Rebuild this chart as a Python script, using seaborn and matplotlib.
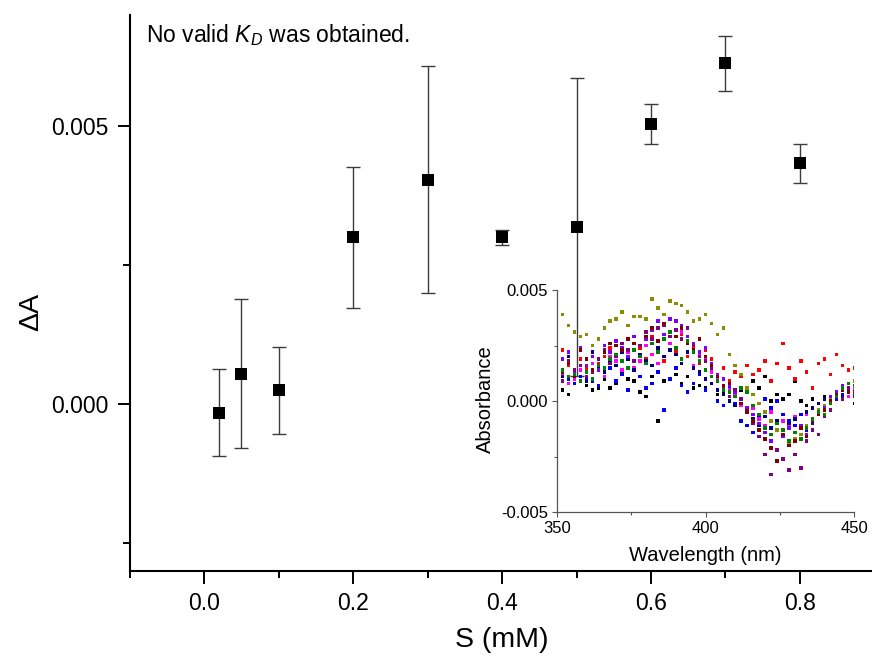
import numpy as np
import pandas as pd
import matplotlib
matplotlib.use("Agg")
import matplotlib.pyplot as plt
from matplotlib.ticker import FixedLocator, FormatStrFormatter
import seaborn as sns

# ---------------- main data ----------------
S_mM = [0.02, 0.05, 0.1, 0.2, 0.3, 0.4, 0.5, 0.6, 0.7, 0.8]
dA = [-0.00015, 0.00055, 0.00025, 0.0030, 0.00404, 0.0030, 0.00319, 0.00504, 0.00613, 0.00433]
dA_err = [0.00078, 0.00134, 0.00078, 0.00127, 0.00204, 0.00014, 0.00268, 0.00036, 0.0005, 0.00035]

# ---------------- inset data (absorbance x 1e-3) ----------------
wavelength = list(range(350, 451, 2))
olive = [3.2, 3.9, 3.4, 3.1, 2.9, 3.0, 2.5, 2.8, 3.3, 3.6,
         3.7, 4.0, 3.4, 3.8, 3.8, 3.7, 4.6, 4.2, 3.9, 4.5,
         4.4, 4.3, 4.0, 3.6, 3.7, 3.9, 3.5, 3.0, 3.3, 2.1,
         1.6, 1.2, 0.6, 0.3, -0.1, -0.5, -0.9, -1.3, -1.6, -1.9,
         -1.7, -1.5, -1.1, -0.8, -0.4, -0.2, 0.1, 0.4, 0.6, 0.8,
         0.9]
red = [1.4, 2.3, 1.6, 1.2, 1.9, 1.5, 1.3, 1.7, 2.0, 2.4,
       1.8, 2.6, 2.2, 1.5, 2.4, 1.9, 2.9, 2.3, 1.8, 2.6,
       2.2, 3.0, 2.0, 2.4, 1.7, 2.3, 1.9, 1.2, 1.5, 0.9,
       1.3, 1.1, 1.6, 1.2, 1.4, 1.8, 0.9, 1.7, 2.6, 1.5,
       1.0, 1.8, 1.3, 0.6, 1.7, 1.9, 1.2, 2.1, 1.6, 1.4,
       1.5]
black = [0.8, 0.5, 0.3, 1.1, 0.9, 0.7, 0.5, 0.6, 1.0, 0.6,
         0.8, 1.3, 1.0, 0.9, 0.4, 0.2, 1.1, -0.9, 0.9, 1.0,
         1.2, 0.8, 1.1, 0.6, 0.7, 0.6, 0.8, 0.3, 0.4, 0.6,
         0.2, 0.5, 0.4, 0.9, 0.6, 1.1, 0.0, 0.3, 0.1, 0.3,
         0.9, 0.0, -0.2, 0.1, -0.4, 0.2, -0.1, 0.3, 0.5, 0.4,
         -0.1]
blue = [1.3, 0.9, 1.0, 0.8, 1.1, 1.0, 0.9, 0.7, 1.3, 1.5,
        0.9, 1.2, 0.5, 1.4, 1.1, 0.6, 0.8, 1.3, -0.4, 1.0,
        1.5, 0.7, 0.4, 0.8, 1.2, 0.5, 1.3, 0.0, -0.2, 0.6,
        -0.1, -0.9, -1.1, -1.4, -0.7, 0.1, -0.3, 0.0, -0.6, -0.9,
        -1.1, -0.6, -1.3, -1.0, -0.4, -0.3, 0.0, 0.1, 0.3, 0.2,
        0.5]
green = [0.7, 1.4, 1.1, 1.2, 0.9, 1.3, 1.0, 1.6, 1.5, 1.9,
         2.1, 1.8, 1.5, 2.3, 2.0, 1.7, 2.6, 2.2, 2.8, 3.1,
         2.4, 1.9, 2.7, 2.2, 1.8, 1.4, 1.1, 0.9, 0.5, 0.4,
         0.2, 0.6, 0.4, -0.2, -0.6, -1.2, -1.5, -1.0, -1.3, -1.8,
         -1.4, -1.7, -1.2, -0.8, -0.5, -0.6, -0.1, 0.2, 0.6, 0.8,
         0.7]
magenta = [1.6, 1.2, 0.8, 1.0, 1.4, 1.3, 1.7, 1.5, 1.1, 2.0,
           1.8, 1.4, 2.2, 1.5, 1.8, 2.5, 2.1, 1.7, 2.8, 2.6,
           2.4, 3.1, 2.2, 1.6, 2.1, 1.9, 1.3, 1.0, 0.7, 0.5,
           0.3, -0.2, 0.4, -0.3, -0.8, -1.1, -0.5, -1.3, -0.9, -1.1,
           -0.7, -1.2, -0.6, -0.9, -0.4, -0.2, 0.1, 0.3, 0.5, 0.2,
           0.6]
violet = [1.5, 1.9, 2.2, 1.3, 2.4, 1.6, 2.0, 1.4, 2.5, 2.2,
          2.7, 2.4, 2.0, 2.9, 2.5, 2.8, 3.2, 3.6, 3.0, 3.7,
          3.6, 3.4, 2.9, 2.6, 2.2, 2.4, 1.7, 1.2, 1.0, 0.7,
          0.4, 0.1, -0.3, -0.6, -1.0, -1.4, -1.8, -2.2, -1.6, -1.2,
          -1.4, -1.1, -1.5, -0.9, -0.6, -0.3, 0.2, 0.4, 0.7, 0.5,
          0.3]
purple = [1.2, 0.9, 1.8, 1.4, 1.6, 1.1, 1.3, 1.9, 2.3, 1.7,
          2.0, 2.6, 2.3, 1.8, 2.5, 3.1, 2.8, 3.3, 3.4, 2.9,
          3.2, 2.8, 3.3, 2.5, 2.0, 1.8, 1.5, 0.9, 0.6, 0.2,
          0.5, 0.1, -0.4, -1.0, -1.6, -2.4, -3.3, -2.2, -2.6, -3.1,
          -2.4, -3.0, -1.8, -1.3, -1.5, -0.7, -0.4, 0.2, 0.1, 0.6,
          0.4]
wine = [1.5, 1.3, 1.7, 1.1, 2.3, 1.9, 1.4, 1.6, 2.2, 2.6,
        2.5, 2.3, 2.8, 2.6, 2.0, 2.9, 3.3, 2.7, 3.5, 3.1,
        2.9, 3.3, 2.6, 2.3, 2.8, 2.0, 1.6, 1.1, 0.7, 0.8,
        0.2, -0.1, -0.5, -0.9, -1.3, -1.7, -2.1, -2.7, -1.5, -2.0,
        -1.8, -1.2, -1.6, -0.9, -0.6, -0.4, 0.0, 0.3, 0.5, 0.4,
        0.2]
navy = [1.4, 1.1, 2.0, 1.2, 1.6, 0.9, 2.2, 1.5, 1.3, 1.8,
        1.6, 2.2, 1.9, 1.4, 2.1, 1.8, 1.6, 2.4, 2.0, 2.3,
        2.1, 1.7, 2.2, 1.5, 1.3, 1.0, 0.8, 0.5, 0.3, 0.0,
        -0.2, -0.1, -0.5, -0.8, -1.1, -0.7, -1.2, -0.9, -1.3, -1.0,
        -0.8, -1.1, -0.5, -0.3, -0.1, 0.1, 0.0, 0.3, 0.2, 0.4,
        0.3]

series = {"black": black, "red": red, "blue": blue, "magenta": magenta,
          "olive": olive, "navy": navy, "violet": violet, "purple": purple,
          "wine": wine, "green": green}
palette = {"black": "#000000", "red": "#ff0000", "blue": "#0000ff",
           "green": "#008000", "magenta": "#ff00ff", "olive": "#8c8c00",
           "navy": "#000080", "violet": "#8000ff", "purple": "#800080",
           "wine": "#800000"}

rows = []
for name, vals in series.items():
    for w, v in zip(wavelength, vals):
        rows.append({"wl": w, "abs": v / 1000.0, "series": name})
inset_df = pd.DataFrame(rows)
main_df = pd.DataFrame({"S": S_mM, "dA": dA, "err": dA_err})

# ---------------- style ----------------
sns.set_style("ticks")
plt.rcParams["font.family"] = ["Liberation Sans", "DejaVu Sans"]
plt.rcParams["mathtext.fontset"] = "custom"
plt.rcParams["mathtext.rm"] = "Liberation Sans"
plt.rcParams["mathtext.it"] = "Liberation Sans:italic"
plt.rcParams["text.color"] = "black"
plt.rcParams["axes.labelcolor"] = "black"
plt.rcParams["xtick.color"] = "black"
plt.rcParams["ytick.color"] = "black"

fig = plt.figure(figsize=(8.72, 6.59), dpi=100)
fig.patch.set_facecolor("white")

W, H = 872.0, 659.0
ax = fig.add_axes([129.7 / W, (H - 571) / H, (874.4 - 129.7) / W, (571 - 15) / H])
ax.set_facecolor("none")

ax.errorbar(main_df["S"], main_df["dA"], yerr=main_df["err"], fmt="none",
            ecolor="#3c3c3c", elinewidth=1.0, capsize=5, capthick=1.0, zorder=2)
sns.scatterplot(data=main_df, x="S", y="dA", marker="s", s=85, color="black",
                edgecolor="black", linewidth=0, ax=ax, zorder=3, legend=False)

ax.set_xlim(-0.1, 0.9)
ax.set_ylim(-0.003, 0.007)
ax.xaxis.set_major_locator(FixedLocator([0.0, 0.2, 0.4, 0.6, 0.8]))
ax.xaxis.set_minor_locator(FixedLocator([-0.1, 0.1, 0.3, 0.5, 0.7]))
ax.yaxis.set_major_locator(FixedLocator([0.0, 0.005]))
ax.yaxis.set_minor_locator(FixedLocator([-0.0025, 0.0025]))
ax.xaxis.set_major_formatter(FormatStrFormatter("%.1f"))
ax.yaxis.set_major_formatter(FormatStrFormatter("%.3f"))
ax.tick_params(which="major", direction="out", length=9, width=1.4, labelsize=16.5, pad=6,
               colors="black")
ax.tick_params(which="minor", direction="out", length=5, width=1.4, colors="black")
for sp in ["top", "right"]:
    ax.spines[sp].set_visible(False)
for sp in ["left", "bottom"]:
    ax.spines[sp].set_linewidth(1.5)
    ax.spines[sp].set_color("black")
ax.set_xlabel("S (mM)", fontsize=20.5, color="black")
ax.set_ylabel("ΔA", fontsize=20.5, color="black")
ax.xaxis.set_label_coords(0.5, -0.10)
ax.yaxis.set_label_coords(-0.115, 0.466)

fig.text(146 / W, (H - 41.7) / H, "No valid $K_D$ was obtained.", fontsize=16.5,
         ha="left", va="baseline", color="black")

# ---------------- inset ----------------
ins = fig.add_axes([556.7 / W, (H - 512.3) / H, (854.3 - 556.7) / W, (512.3 - 290) / H])
ins.set_facecolor("none")
sns.scatterplot(data=inset_df, x="wl", y="abs", hue="series", palette=palette,
                marker="s", s=6.5, linewidth=0, ax=ins, legend=False)
ins.set_xlim(350, 450)
ins.set_ylim(-0.005, 0.005)
ins.xaxis.set_major_locator(FixedLocator([350, 400, 450]))
ins.xaxis.set_minor_locator(FixedLocator([375, 425]))
ins.yaxis.set_major_locator(FixedLocator([-0.005, 0.0, 0.005]))
ins.yaxis.set_minor_locator(FixedLocator([-0.0025, 0.0025]))
ins.yaxis.set_major_formatter(FormatStrFormatter("%.3f"))
ins.tick_params(which="major", direction="out", length=3.5, width=0.8, labelsize=12, pad=2.5,
                color="#555555", labelcolor="black")
ins.tick_params(which="minor", direction="out", length=2, width=0.8, color="#555555")
for sp in ["top", "right"]:
    ins.spines[sp].set_visible(False)
for sp in ["left", "bottom"]:
    ins.spines[sp].set_linewidth(0.9)
    ins.spines[sp].set_color("#555555")
ins.set_xlabel("Wavelength (nm)", fontsize=14.5, color="black")
ins.set_ylabel("Absorbance", fontsize=14.5, color="black")
ins.xaxis.set_label_coords(0.5, -0.15)
ins.yaxis.set_label_coords(-0.207, 0.51)

fig.savefig("out.png", dpi=100, facecolor="white")
